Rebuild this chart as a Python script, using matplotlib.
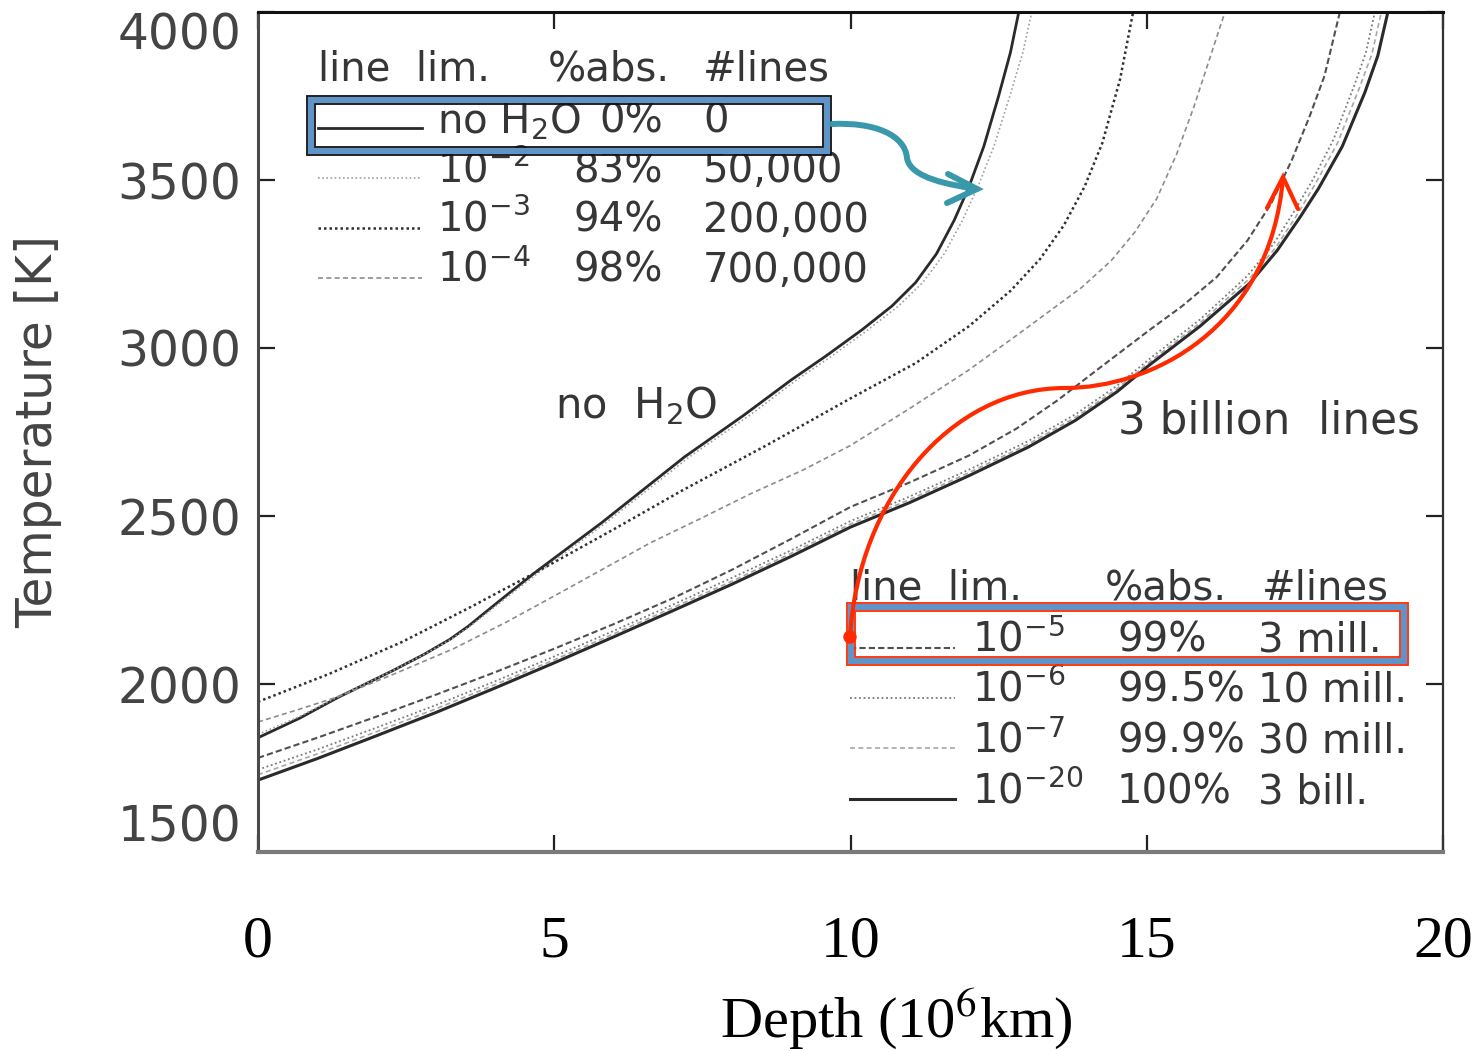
import numpy as np
import matplotlib
matplotlib.use("Agg")
import matplotlib.pyplot as plt
from matplotlib.patches import Rectangle, PathPatch, Circle
from matplotlib.path import Path
from matplotlib.transforms import Affine2D

plt.rcParams['font.family'] = ['DejaVu Sans']
plt.rcParams['mathtext.fontset'] = 'dejavusans'

# temperature profiles: depth (10^6 km) vs T (K)
x_noh2o = [0, 0.7, 1.35, 2.3, 2.8, 3.24, 3.55, 3.8, 4.2, 4.7, 5.8, 7.2, 8.2, 9.0, 9.6, 10.2, 10.7,
           11.1, 11.45, 11.75, 12.0, 12.25, 12.5, 12.7, 12.84]
t_noh2o = [1840, 1898, 1960, 2042, 2088, 2133, 2172, 2208, 2265, 2335, 2480, 2676, 2800, 2905, 2978, 3055, 3125,
           3195, 3280, 3380, 3480, 3600, 3750, 3880, 4000]

x_m2 = [0, 0.7, 1.35, 2.3, 2.8, 3.26, 3.58, 3.84, 4.25, 4.76, 5.87, 7.28, 8.3, 9.09, 9.7, 10.3, 10.81,
        11.22, 11.58, 11.89, 12.15, 12.42, 12.69, 12.91, 13.06]
t_m2 = [1850, 1903, 1962, 2042, 2088, 2133, 2172, 2208, 2265, 2335, 2480, 2676, 2800, 2905, 2978, 3055, 3125,
        3195, 3280, 3380, 3480, 3600, 3750, 3880, 4000]

x_m3 = [0, 1.2, 2.43, 3.6, 4.76, 6.0, 7.17, 8.6, 10.0, 11.1, 12.0, 12.7, 13.2, 13.6, 13.95,
        14.25, 14.55, 14.77]
t_m3 = [1947, 2030, 2125, 2230, 2339, 2460, 2577, 2712, 2850, 2955, 3065, 3170, 3265, 3365, 3480,
        3610, 3800, 4000]

x_m4 = [0, 0.7, 1.35, 2.3, 3.3, 4.2, 5.0, 5.8, 6.62, 7.5, 8.3, 9.2, 10.0, 11.0, 12.0, 12.9,
        13.4, 13.9, 14.4, 14.8, 15.17, 15.5, 15.8, 16.05, 16.32]
t_m4 = [1887, 1925, 1962, 2030, 2105, 2185, 2262, 2340, 2420, 2495, 2565, 2637, 2710, 2820, 2935, 3050,
        3115, 3180, 3260, 3345, 3445, 3575, 3720, 3855, 4000]

x_m5 = [0, 1, 2, 3, 4, 5, 6, 7, 8, 9, 10, 11, 12, 12.8, 13.5, 14.2, 15.05, 15.6, 16.18,
        16.7, 17.1, 17.45, 17.75, 18.0, 18.26]
t_m5 = [1780, 1840, 1903, 1968, 2035, 2105, 2178, 2255, 2340, 2432, 2527, 2600, 2680, 2760, 2845, 2940,
        3054, 3125, 3211, 3320, 3430, 3560, 3690, 3810, 4000]

x_m6 = [0, 1, 2, 3, 4, 5, 6, 7, 8, 9, 10, 11, 12, 13, 13.8, 14.5, 15.05, 15.9, 16.7,
        17.15, 17.5, 17.8, 18.15, 18.5, 18.7, 18.85]
t_m6 = [1745, 1805, 1870, 1937, 2008, 2082, 2158, 2236, 2316, 2398, 2485, 2558, 2638, 2723, 2803, 2888,
        2968, 3085, 3215, 3312, 3410, 3500, 3620, 3780, 3880, 4000]

x_m7 = [0, 1, 2, 3, 4, 5, 6, 7, 8, 9, 10, 11, 12, 13, 13.8, 14.5, 15.05, 15.9, 16.72,
        17.18, 17.55, 17.85, 18.22, 18.58, 18.8, 18.96]
t_m7 = [1730, 1792, 1858, 1926, 1998, 2072, 2149, 2227, 2306, 2389, 2476, 2549, 2629, 2714, 2794, 2879,
        2959, 3075, 3204, 3300, 3400, 3490, 3610, 3770, 3875, 4000]

x_m20 = [0, 1, 2, 3, 4, 5, 6, 7, 8, 9, 10, 11, 12, 13, 13.8, 14.5, 15.05, 15.9, 16.74,
         17.2, 17.59, 17.9, 18.3, 18.68, 18.9, 19.07]
t_m20 = [1714, 1778, 1846, 1915, 1988, 2063, 2140, 2218, 2297, 2380, 2467, 2540, 2620, 2705, 2785, 2870,
         2950, 3065, 3193, 3290, 3390, 3475, 3600, 3760, 3870, 4000]

# legend table contents
top_header = ['line  lim.', '%abs.', '#lines']
top_lim = ['no H$_2$O', '10$^{-2}$', '10$^{-3}$', '10$^{-4}$']
top_abs = ['0%', '83%', '94%', '98%']
top_n = ['0', '50,000', '200,000', '700,000']

bot_header = ['line  lim.', '%abs.', '#lines']
bot_lim = ['10$^{-5}$', '10$^{-6}$', '10$^{-7}$', '10$^{-20}$']
bot_abs = ['99%', '99.5%', '99.9%', '100%']
bot_n = ['3 mill.', '10 mill.', '30 mill.', '3 bill.']

x_ticks = [0, 5, 10, 15, 20]
y_ticks = [1500, 2000, 2500, 3000, 3500, 4000]

styles = {
    'noh2o': dict(color='#2a2a2a', lw=2.0, ls='-'),
    'm2': dict(color='#a0a0a0', lw=1.2, ls=(0, (1, 1.5))),
    'm3': dict(color='#303030', lw=1.8, ls=(0, (1, 1.2))),
    'm4': dict(color='#8c8c8c', lw=1.2, ls=(0, (3, 2))),
    'm5': dict(color='#505050', lw=1.5, ls=(0, (3, 1.5))),
    'm6': dict(color='#7a7a7a', lw=1.3, ls=(0, (1, 1.5))),
    'm7': dict(color='#a8a8a8', lw=1.2, ls=(0, (3, 2))),
    'm20': dict(color='#2a2a2a', lw=2.2, ls='-'),
}

W, H = 1481, 1051
fig = plt.figure(figsize=(W / 100, H / 100), dpi=100)
ax = fig.add_axes([258 / W, 1 - 852 / H, 1185 / W, 840 / H])

ax.plot(x_noh2o, t_noh2o, **styles['noh2o'])
ax.plot(x_m2, t_m2, **styles['m2'])
ax.plot(x_m3, t_m3, **styles['m3'])
ax.plot(x_m4, t_m4, **styles['m4'])
ax.plot(x_m5, t_m5, **styles['m5'])
ax.plot(x_m6, t_m6, **styles['m6'])
ax.plot(x_m7, t_m7, **styles['m7'])
ax.plot(x_m20, t_m20, **styles['m20'])

ax.set_xlim(0, 20)
ax.set_ylim(1500, 4000)

ax.set_xticks(x_ticks, labels=[str(v) for v in x_ticks], fontfamily='Liberation Serif', fontsize=43)
ax.set_yticks(y_ticks, labels=[str(v) for v in y_ticks], fontsize=35, color='#444444')
ax.tick_params(axis='both', direction='in', length=12, width=1.6, color='#222222',
               top=True, right=True)
ax.tick_params(axis='x', pad=46)
ax.tick_params(axis='y', pad=12)
ylabs = ax.get_yticklabels()
ylabs[0].set_va('bottom')
ylabs[-1].set_va('top')

for side, c, w in [('left', '#4a4a4a', 2.2), ('bottom', '#7a7a7a', 3.0),
                   ('top', '#111111', 2.2), ('right', '#333333', 1.6)]:
    ax.spines[side].set_color(c)
    ax.spines[side].set_linewidth(w)

ax.set_ylabel('Temperature [K]', fontsize=35, color='#444444')
ax.yaxis.set_label_coords(-0.165, 0.5)
ax.set_xlabel('Depth (10$^6$km)', fontfamily='Liberation Serif', fontsize=42,
              math_fontfamily='stix')
ax.xaxis.set_label_coords(0.539, -0.16)

# --- legend tables (axes fraction layout) ---
tc = '#363636'
tfs = 29
tr = ax.transAxes
top_rows = [0.856, 0.7976, 0.7381, 0.6786]
top_samp = [0.8619, 0.8024, 0.7429, 0.6833]
top_keys = ['noh2o', 'm2', 'm3', 'm4']
for hx, s in zip([0.0506, 0.2447, 0.3755], top_header):
    ax.text(hx, 0.919, s, transform=tr, fontsize=tfs, color=tc, va='baseline')
for i in range(4):
    ax.plot([0.0506, 0.1384], [top_samp[i]] * 2, transform=tr, **styles[top_keys[i]])
    ax.text(0.151, top_rows[i], top_lim[i], transform=tr, fontsize=tfs, color=tc, va='baseline')
    ax.text(0.3418, top_rows[i], top_abs[i], transform=tr, fontsize=tfs, color=tc,
            va='baseline', ha='right')
    ax.text(0.3755, top_rows[i], top_n[i], transform=tr, fontsize=tfs, color=tc, va='baseline')

bot_rows = [0.2381, 0.1786, 0.119, 0.0583]
bot_samp = [0.2429, 0.1833, 0.1238, 0.0631]
bot_keys = ['m5', 'm6', 'm7', 'm20']
for hx, s in zip([0.4996, 0.7148, 0.8473], bot_header):
    ax.text(hx, 0.30, s, transform=tr, fontsize=tfs, color=tc, va='baseline')
for i in range(4):
    ax.plot([0.4996, 0.5882], [bot_samp[i]] * 2, transform=tr, **styles[bot_keys[i]])
    ax.text(0.6025, bot_rows[i], bot_lim[i], transform=tr, fontsize=tfs, color=tc, va='baseline')
    ax.text(0.7249, bot_rows[i], bot_abs[i], transform=tr, fontsize=tfs, color=tc, va='baseline')
    ax.text(0.8439, bot_rows[i], bot_n[i], transform=tr, fontsize=tfs, color=tc, va='baseline')

ax.text(0.2506, 0.5167, 'no  H$_2$O', transform=tr, fontsize=30, color=tc, va='baseline')
ax.text(0.7257, 0.4988, '3 billion  lines', transform=tr, fontsize=31.5, color=tc, va='baseline')

# --- highlight overlays, positioned in figure pixels ---
pix = Affine2D().scale(1 / W, -1 / H).translate(0, 1) + fig.transFigure
blue = '#5f94c8'
red = '#ff2a00'
teal = '#3a98ab'


def frame(x0, y0, x1, y1, outer, band):
    fig.add_artist(Rectangle((x0 + 4, y0 + 4), x1 - x0 - 8, y1 - y0 - 8, transform=pix,
                             fill=False, ec=band, lw=4.5))
    fig.add_artist(Rectangle((x0, y0), x1 - x0, y1 - y0, transform=pix,
                             fill=False, ec=outer, lw=1.3))
    fig.add_artist(Rectangle((x0 + 8, y0 + 8), x1 - x0 - 16, y1 - y0 - 16, transform=pix,
                             fill=False, ec=outer, lw=1.3))


frame(307, 96, 831, 155, '#111111', blue)
frame(847, 603, 1408, 665, red, blue)

teal_path = Path([(832, 124), (875, 122), (905, 135), (907, 158),
                  (910, 178), (950, 185), (977, 189)],
                 [Path.MOVETO, Path.CURVE4, Path.CURVE4, Path.CURVE4,
                  Path.CURVE4, Path.CURVE4, Path.CURVE4])
fig.add_artist(PathPatch(teal_path, transform=pix, fill=False, ec=teal, lw=4.3, capstyle='round'))
fig.add_artist(PathPatch(Path([(948, 174), (977, 189), (947, 203)]), transform=pix,
                         fill=False, ec=teal, lw=4.3, capstyle='round', joinstyle='miter'))

red_path = Path([(850, 637), (858, 500), (950, 388), (1065, 388),
                 (1150, 388), (1270, 330), (1283, 178)],
                [Path.MOVETO, Path.CURVE4, Path.CURVE4, Path.CURVE4,
                 Path.CURVE4, Path.CURVE4, Path.CURVE4])
fig.add_artist(PathPatch(red_path, transform=pix, fill=False, ec=red, lw=3.0))
fig.add_artist(PathPatch(Path([(1267, 208), (1283, 177), (1298, 209)]), transform=pix,
                         fill=False, ec=red, lw=3.0, capstyle='round'))
fig.add_artist(Circle((850, 637), 6, transform=pix, color=red))

fig.savefig('out.png', dpi=100, facecolor='white')
